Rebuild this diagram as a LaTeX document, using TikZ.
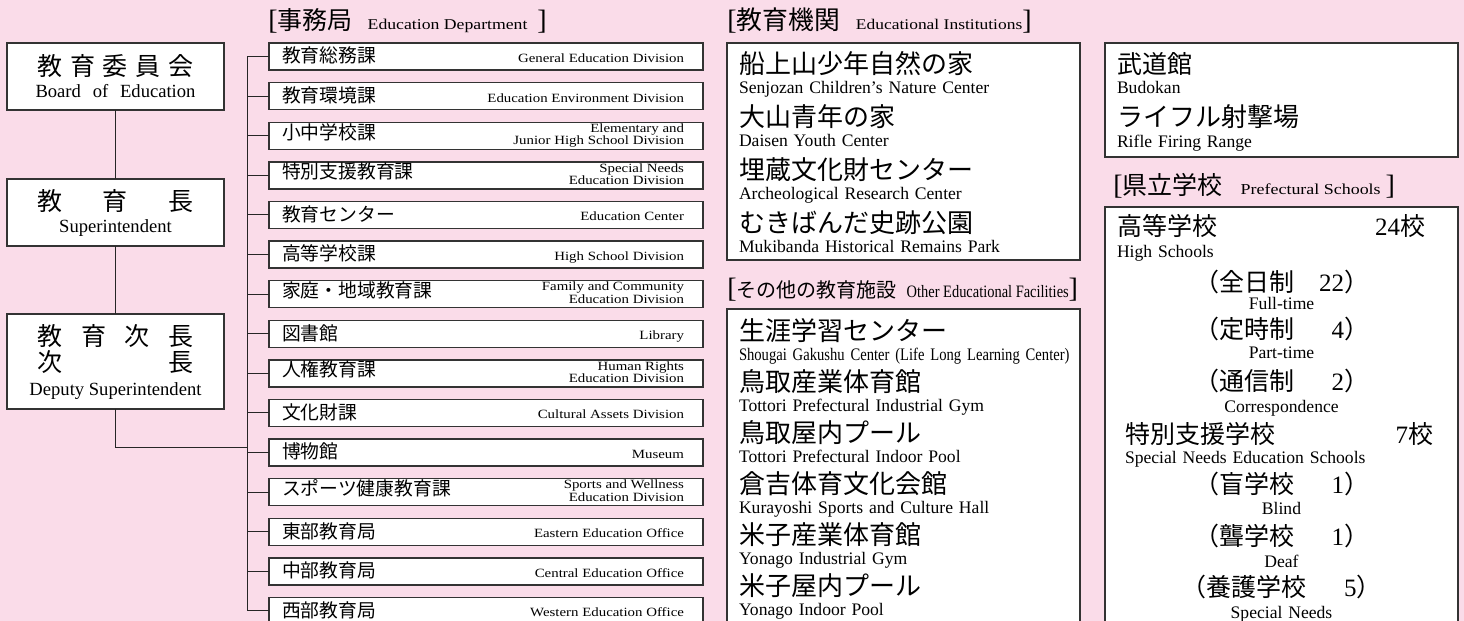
\documentclass[tikz,border=0pt]{standalone}
\usepackage{fontspec}
\setmainfont{Liberation Serif}
\newfontfamily\jp{Noto Sans CJK JP}
\newfontfamily\cent[FakeStretch=1.18]{Liberation Serif}
\newfontfamily\cond[FakeStretch=0.83]{Liberation Serif}
\usetikzlibrary{positioning}
\definecolor{bgpink}{RGB}{250,220,233}
\newcommand{\jt}[2][13]{{\jp\fontsize{#1}{10}\selectfont #2}}
\newcommand{\et}[2][8.8]{{\fontsize{#1}{10}\selectfont #2}}
\newcommand{\dept}[2]{\makebox[217pt]{\hspace{6.5pt}\jt[9.4]{#1}\hfill
    {\cent\fontsize{6.3}{5.8}\selectfont\begin{tabular}{@{}r@{}}#2\end{tabular}}\hspace{9.5pt}}}
\newcommand{\schoolrow}[1]{\makebox[164.5pt][l]{#1}}

\begin{document}
\begin{tikzpicture}[
    x=0.5pt, y=-0.5pt,
    topbox/.style = {
        draw=black!80, fill=white, line width=0.7pt, outer sep=0pt,
        minimum width=108.5pt, inner sep=0pt, align=center,
        font=\fontsize{9.3}{11}\selectfont,
        execute at begin node={\lineskiplimit=-20pt}
    },
    deptbox/.style = {
        draw=black!80, fill=white, line width=0.7pt, outer sep=0pt,
        minimum width=217pt, minimum height=13.5pt, inner sep=0pt
    },
    listbox/.style = {
        draw=black!80, fill=white, line width=0.7pt, outer sep=0pt,
        anchor=north west, inner xsep=6pt, inner ysep=2pt,
        text width=164.5pt, align=left,
        font=\fontsize{8.8}{10}\selectfont,
        execute at begin node={\lineskiplimit=-20pt}
    },
    headtext/.style = {anchor=base west, inner sep=0pt},
    link/.style = {draw=black!85, line width=0.5pt}
]

\useasboundingbox (0,0) rectangle (1464,621);
\fill[bgpink] (0,0) rectangle (1464,621);

% ---- Left column ----
\node[topbox, minimum height=33.5pt] (board) at (115.5,76.5)
    {\makebox[78pt]{\jt[12.5]{教\hfill 育\hfill 委\hfill 員\hfill 会}}\\
     \makebox[80pt][s]{Board of Education}};
\node[topbox, minimum height=33.5pt] (supt) at (115.5,212.5)
    {\makebox[78pt]{\jt[12.5]{教\hfill 育\hfill 長}}\\
     Superintendent};
\node[topbox, minimum height=47.5pt] (deputy) at (115.5,361.5)
    {\makebox[78pt]{\jt[12.5]{教\hfill 育\hfill 次\hfill 長}}\\[2pt]
     \makebox[78pt]{\jt[12.5]{次\hfill 長}}\\[1pt]
     Deputy Superintendent};

% ---- Education Department ----
\node[headtext] (depthead) at (268,30)
    {\et[14]{[}\jt[12.5]{事務局}\hspace{7.5pt}{\cent\fontsize{7.5}{10}\selectfont Education Department}\hspace{5pt}\et[14]{]}};

\node[deptbox] (d1) at (486,56.5) {\dept{教育総務課}{General Education Division}};
\node[deptbox, below=6.3pt of d1] (d2) {\dept{教育環境課}{Education Environment Division}};
\node[deptbox, below=6.3pt of d2] (d3) {\dept{小中学校課}{Elementary and\\Junior High School Division}};
\node[deptbox, below=6.3pt of d3] (d4) {\dept{特別支援教育課}{Special Needs\\Education Division}};
\node[deptbox, below=6.3pt of d4] (d5) {\dept{教育センター}{Education Center}};
\node[deptbox, below=6.3pt of d5] (d6) {\dept{高等学校課}{High School Division}};
\node[deptbox, below=6.3pt of d6] (d7) {\dept{家庭・地域教育課}{Family and Community\\Education Division}};
\node[deptbox, below=6.3pt of d7] (d8) {\dept{図書館}{Library}};
\node[deptbox, below=6.3pt of d8] (d9) {\dept{人権教育課}{Human Rights\\Education Division}};
\node[deptbox, below=6.3pt of d9] (d10) {\dept{文化財課}{Cultural Assets Division}};
\node[deptbox, below=6.3pt of d10] (d11) {\dept{博物館}{Museum}};
\node[deptbox, below=6.3pt of d11] (d12) {\dept{スポーツ健康教育課}{Sports and Wellness\\Education Division}};
\node[deptbox, below=6.3pt of d12] (d13) {\dept{東部教育局}{Eastern Education Office}};
\node[deptbox, below=6.3pt of d13] (d14) {\dept{中部教育局}{Central Education Office}};
\node[deptbox, below=6.3pt of d14] (d15) {\dept{西部教育局}{Western Education Office}};

% ---- Educational Institutions ----
\node[headtext] (insthead) at (727,30)
    {\et[14]{[}\jt[12.9]{教育機関}\hspace{8pt}{\cent\fontsize{7.4}{10}\selectfont Educational Institutions}\et[14]{]}};
\node[listbox] (inst) at (727,43) {%
    \rule{0pt}{13pt}\jt{船上山少年自然の家}\\
    Senjozan Children's Nature Center\\[6.65pt]
    \jt{大山青年の家}\\
    Daisen Youth Center\\[6.65pt]
    \jt{埋蔵文化財センター}\\
    Archeological Research Center\\[6.65pt]
    \jt{むきばんだ史跡公園}\\
    Mukibanda Historical Remains Park\rule[-1.5pt]{0pt}{0pt}};

% ---- Other Educational Facilities ----
\node[headtext] (otherhead) at (727,297)
    {\et[14]{[}\jt[10]{その他の教育施設}\hspace{5pt}{\cond\fontsize{8.7}{10}\selectfont Other Educational Facilities}\et[14]{]}};
\node[listbox] (facil) at (727,309) {%
    \rule{0pt}{13.5pt}\jt{生涯学習センター}\\
    \mbox{\cond Shougai Gakushu Center (Life Long Learning Center)}\\[5.5pt]
    \jt{鳥取産業体育館}\\
    Tottori Prefectural Industrial Gym\\[5.5pt]
    \jt{鳥取屋内プール}\\
    Tottori Prefectural Indoor Pool\\[5.5pt]
    \jt{倉吉体育文化会館}\\
    Kurayoshi Sports and Culture Hall\\[5.5pt]
    \jt{米子産業体育館}\\
    Yonago Industrial Gym\\[5.5pt]
    \jt{米子屋内プール}\\
    Yonago Indoor Pool\rule[-3pt]{0pt}{0pt}};

% ---- Budokan / Rifle range ----
\node[listbox] (budo) at (1105,43) {%
    \rule{0pt}{13pt}\jt[12.5]{武道館}\\
    Budokan\\[7pt]
    \jt{ライフル射撃場}\\
    Rifle Firing Range\rule[-3pt]{0pt}{0pt}};

% ---- Prefectural Schools ----
\node[headtext] (prefhead) at (1113,194)
    {\et[14]{[}\jt[12.5]{県立学校}\hspace{9pt}{\cent\fontsize{7.6}{10}\selectfont Prefectural Schools}\hspace{2.5pt}\et[14]{]}};
\node[listbox, align=center] (schools) at (1105,207) {%
    \schoolrow{\rule{0pt}{12pt}\jt[12.5]{高等学校}\hfill\et[12.5]{24}\jt[12.5]{校}\hspace{10.5pt}}\\[1pt]
    \schoolrow{High Schools}\\[7pt]
    \jt[12.5]{（全日制　}\et[12.5]{22}\jt[12.5]{）}\\[-1pt]
    Full-time\\[4.5pt]
    \jt[12.5]{（定時制　}\hspace{6.25pt}\et[12.5]{4}\jt[12.5]{）}\\
    Part-time\\[6pt]
    \jt[12.5]{（通信制　}\hspace{6.25pt}\et[12.5]{2}\jt[12.5]{）}\\[1pt]
    Correspondence\\[5.5pt]
    \schoolrow{\hspace{4pt}\jt[12.5]{特別支援学校}\hfill\et[12.5]{7}\jt[12.5]{校}\hspace{6.5pt}}\\
    \schoolrow{\hspace{4pt}Special Needs Education Schools}\\[5pt]
    \jt[12.5]{（盲学校　}\hspace{6.25pt}\et[12.5]{1}\jt[12.5]{）}\\[0.5pt]
    Blind\\[5.5pt]
    \jt[12.5]{（聾学校　}\hspace{6.25pt}\et[12.5]{1}\jt[12.5]{）}\\[1pt]
    Deaf\\[4.5pt]
    \jt[12.5]{（養護学校　}\hspace{6.25pt}\et[12.5]{5}\jt[12.5]{）}\\[1pt]
    Special Needs\rule[-3pt]{0pt}{0pt}};

% ---- Connectors ----
\draw[link] (board) -- (supt);
\draw[link] (supt) -- (deputy);
\coordinate (jn) at (247,447);
\draw[link] (deputy.south) |- (jn);

% department bus
\draw[link] (d1.west) -- ++(-11pt,0) |- (d15.west);
\draw[link] (d2.west) -- ++(-11pt,0) (d3.west) -- ++(-11pt,0)
            (d4.west) -- ++(-11pt,0) (d5.west) -- ++(-11pt,0)
            (d6.west) -- ++(-11pt,0) (d7.west) -- ++(-11pt,0)
            (d8.west) -- ++(-11pt,0) (d9.west) -- ++(-11pt,0)
            (d10.west) -- ++(-11pt,0) (d11.west) -- ++(-11pt,0)
            (d12.west) -- ++(-11pt,0) (d13.west) -- ++(-11pt,0)
            (d14.west) -- ++(-11pt,0);

\end{tikzpicture}
\end{document}
